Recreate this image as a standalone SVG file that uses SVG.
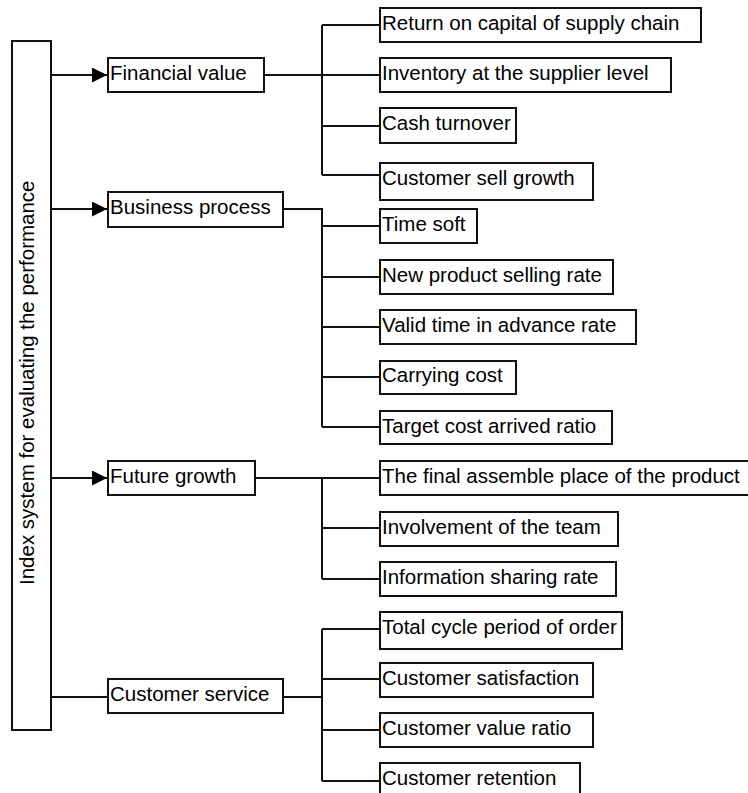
<svg xmlns="http://www.w3.org/2000/svg" width="748" height="793" viewBox="0 0 748 793">
<style>
.box{fill:#fff;stroke:#111;stroke-width:2}
.t{font-family:"Liberation Sans",Arial,sans-serif;font-size:20.5px;fill:#000}
.c{fill:none;stroke:#111;stroke-width:2}
</style>
<defs>
<marker id="ah" markerUnits="userSpaceOnUse" markerWidth="16" markerHeight="16" refX="15" refY="7.5" orient="auto">
<path d="M0,0 L15,7.5 L0,15 z" fill="#000"/>
</marker>
</defs>
<rect width="748" height="793" fill="#fff"/>
<g id="connectors">
<path class="c" d="M51,75 H107" marker-end="url(#ah)"/>
<path class="c" d="M51,209 H107" marker-end="url(#ah)"/>
<path class="c" d="M51,478 H107" marker-end="url(#ah)"/>
<path class="c" d="M51,697 H108"/>
<path class="c" d="M264,75 H380 M322,25 V175 M322,25 H380 M322,126 H380 M322,175 H380"/>
<path class="c" d="M283,209 H322 V427 M322,226 H380 M322,277 H380 M322,327 H380 M322,377 H380 M322,427 H380"/>
<path class="c" d="M256,478 H380 M322,478 V579 M322,528 H380 M322,579 H380"/>
<path class="c" d="M283,697 H322 M322,629 V781 M322,629 H380 M322,679 H380 M322,730 H380 M322,781 H380"/>
</g>
<g id="root">
<rect class="box" x="12" y="41" width="39" height="689"/>
<text class="t" transform="translate(33.5,585) rotate(-90)">Index system for evaluating the performance</text>
</g>
<g id="financial">
<rect class="box" x="108" y="58" width="156" height="34"/>
<text class="t" x="110" y="80">Financial value</text>
</g>
<g id="business">
<rect class="box" x="108" y="192" width="175" height="35"/>
<text class="t" x="110" y="214">Business process</text>
</g>
<g id="future">
<rect class="box" x="108" y="461" width="147" height="34"/>
<text class="t" x="110" y="483">Future growth</text>
</g>
<g id="customer">
<rect class="box" x="108" y="679" width="175" height="34"/>
<text class="t" x="110" y="701">Customer service</text>
</g>
<g id="f1"><rect class="box" x="380" y="8" width="321" height="34"/><text class="t" x="382" y="30">Return on capital of supply chain</text></g>
<g id="f2"><rect class="box" x="380" y="58" width="291" height="34"/><text class="t" x="382" y="80">Inventory at the supplier level</text></g>
<g id="f3"><rect class="box" x="380" y="108" width="136" height="35"/><text class="t" x="382" y="130">Cash turnover</text></g>
<g id="f4"><rect class="box" x="380" y="163" width="213" height="37"/><text class="t" x="382" y="185">Customer sell growth</text></g>
<g id="b1"><rect class="box" x="380" y="209" width="97" height="34"/><text class="t" x="382" y="231">Time soft</text></g>
<g id="b2"><rect class="box" x="380" y="260" width="233" height="34"/><text class="t" x="382" y="282">New product selling rate</text></g>
<g id="b3"><rect class="box" x="380" y="310" width="256" height="34"/><text class="t" x="382" y="332">Valid time in advance rate</text></g>
<g id="b4"><rect class="box" x="380" y="361" width="136" height="33"/><text class="t" x="382" y="382">Carrying cost</text></g>
<g id="b5"><rect class="box" x="380" y="411" width="232" height="33"/><text class="t" x="382" y="433">Target cost arrived ratio</text></g>
<g id="g1"><rect class="box" x="380" y="461" width="370" height="34"/><text class="t" x="382" y="483">The final assemble place of the product</text></g>
<g id="g2"><rect class="box" x="380" y="512" width="238" height="34"/><text class="t" x="382" y="534">Involvement of the team</text></g>
<g id="g3"><rect class="box" x="380" y="562" width="236" height="34"/><text class="t" x="382" y="584">Information sharing rate</text></g>
<g id="c1"><rect class="box" x="380" y="612" width="242" height="37"/><text class="t" x="382" y="634">Total cycle period of order</text></g>
<g id="c2"><rect class="box" x="380" y="663" width="213" height="34"/><text class="t" x="382" y="685">Customer satisfaction</text></g>
<g id="c3"><rect class="box" x="380" y="713" width="213" height="34"/><text class="t" x="382" y="735">Customer value ratio</text></g>
<g id="c4"><rect class="box" x="380" y="763" width="200" height="36"/><text class="t" x="382" y="785">Customer retention</text></g>
</svg>
